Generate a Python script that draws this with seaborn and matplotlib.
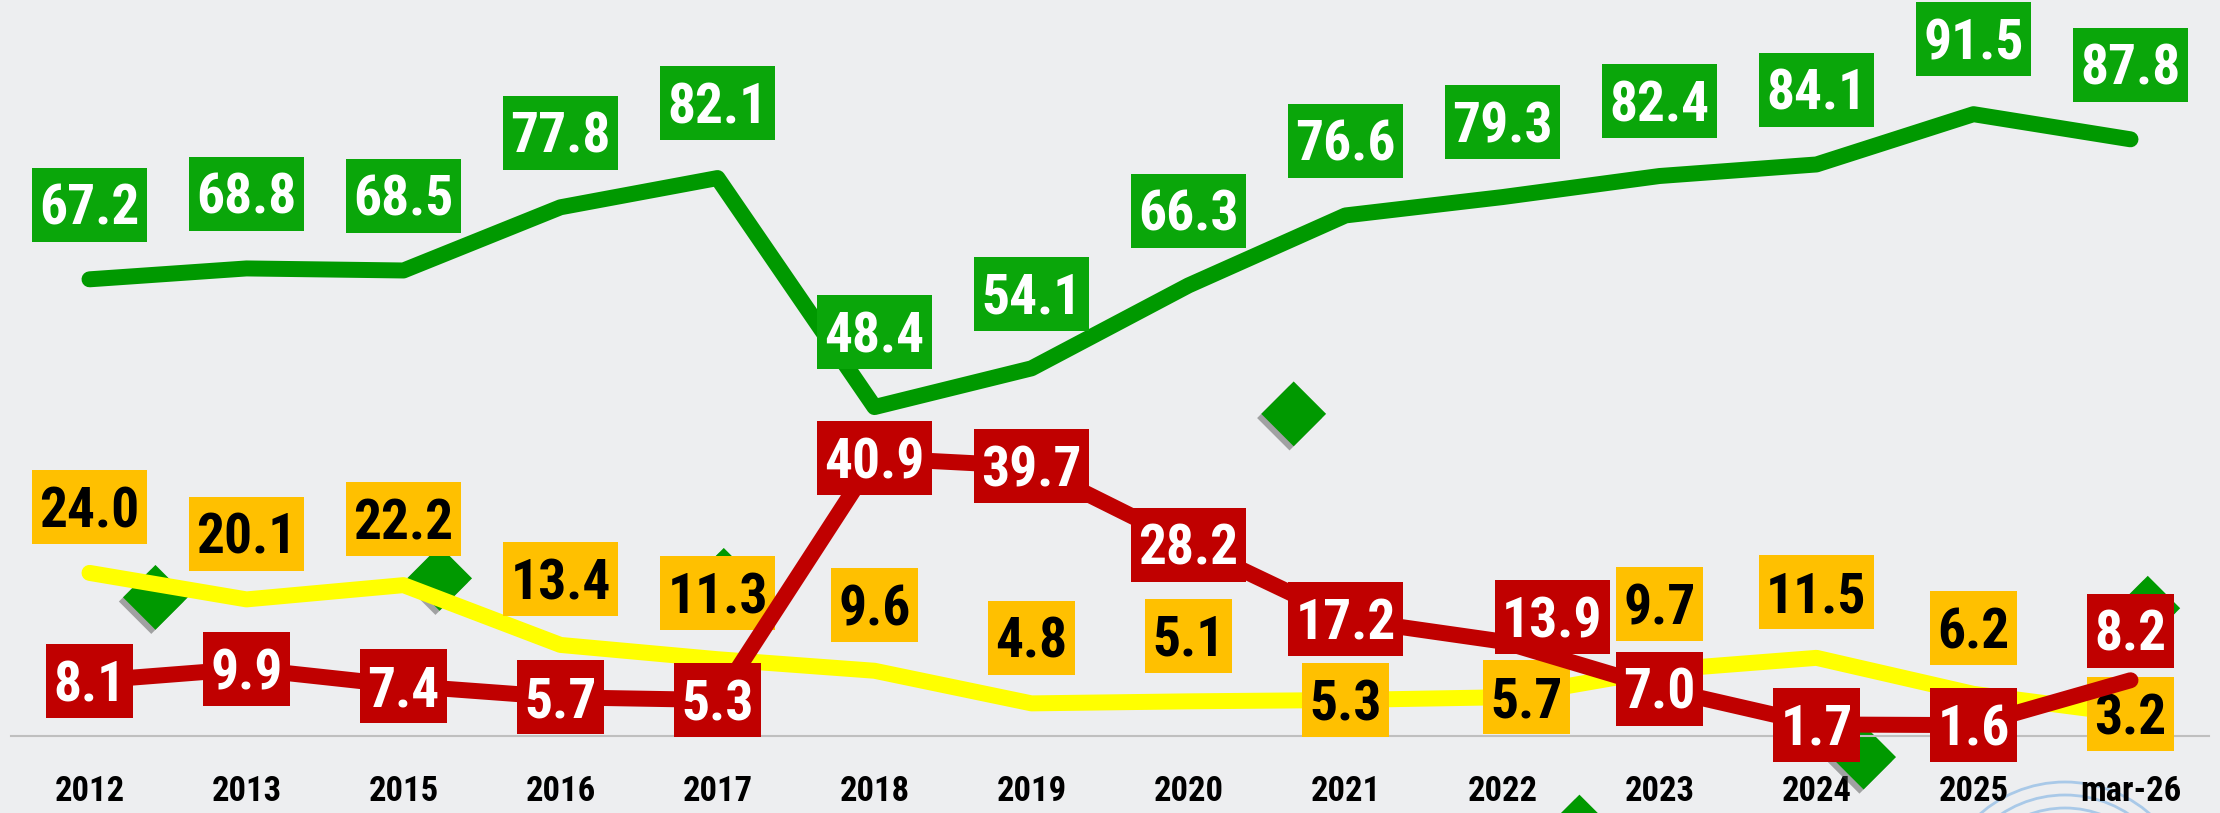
import os
import numpy as np
import pandas as pd
import matplotlib
matplotlib.use('Agg')
import matplotlib.pyplot as plt
import matplotlib.patheffects as pe
from matplotlib import font_manager
from matplotlib.patches import Circle
from matplotlib.path import Path
from matplotlib.textpath import TextPath
from matplotlib.transforms import IdentityTransform
import seaborn as sns

periods = ['2012', '2013', '2015', '2016', '2017', '2018', '2019', '2020',
           '2021', '2022', '2023', '2024', '2025', 'mar-26']
green_vals = [67.2, 68.8, 68.5, 77.8, 82.1, 48.4, 54.1, 66.3, 76.6, 79.3, 82.4, 84.1, 91.5, 87.8]
yellow_vals = [24.0, 20.1, 22.2, 13.4, 11.3, 9.6, 4.8, 5.1, 5.3, 5.7, 9.7, 11.5, 6.2, 3.2]
red_vals = [8.1, 9.9, 7.4, 5.7, 5.3, 40.9, 39.7, 28.2, 17.2, 13.9, 7.0, 1.7, 1.6, 8.2]

# stray green diamonds seen in the original (category position, value)
diamond_pos = [0.42, 2.23, 4.04, 7.67, 9.49, 11.30, 13.11]
diamond_vals = [20.4, 23.2, 22.9, 47.4, -13.4, -3.1, 18.8]

# label box offsets in pixels (most boxes sit at a fixed distance from the point)
n = len(periods)
green_dx, green_dy = [0] * n, [75] * n
yellow_dx = [0] * n
yellow_dx[9] = 24
yellow_dy = [66] * n
yellow_dy[8] = yellow_dy[9] = yellow_dy[13] = 0
red_dx, red_dy = [0] * n, [0] * n
red_dx[9], red_dy[9] = 50, 25
red_dy[13] = 50

BG = '#EDEEF0'
GREEN_LINE, GREEN_BOX = '#009900', '#0AA60A'
YELLOW_LINE, YELLOW_BOX = '#FFFF00', '#FFC000'
RED = '#C00000'

sns.set_theme(style='white')
plt.rcParams['figure.facecolor'] = BG
plt.rcParams['axes.facecolor'] = BG
plt.rcParams['font.family'] = ['DejaVu Sans']

# pick the bold narrow sans face whose proportions come closest to the original type
families = ('liberationsans', 'roboto', 'notosans-', 'opensans', 'dejavusans', 'lato', 'inter')
skip = ('semibold', 'extrabold', 'demibold', 'italic', 'oblique', 'black', 'light', 'mono')
cands = []
for f in font_manager.fontManager.ttflist:
    b = os.path.basename(f.fname).lower()
    if (b.startswith(families) and ('condensed' in b or 'narrow' in b) and 'bold' in b
            and not any(s in b for s in skip)):
        cands.append(f.fname)
cands.append(font_manager.findfont(font_manager.FontProperties(family='DejaVu Sans', weight='bold')))


def proportions(fname):
    p = font_manager.FontProperties(fname=fname)
    h = TextPath((0, 0), '0123456789', size=1, prop=p).get_extents().y1
    w = TextPath((0, 0), '67.2', size=1, prop=p).get_extents().width
    return w / h, h


font_file = min(cands, key=lambda fn: abs(proportions(fn)[0] - 2.1))
bold = font_manager.FontProperties(fname=font_file)
digit_h = proportions(font_file)[1]
desc = -TextPath((0, 0), 'lp', size=1, prop=bold).get_extents().y0
label_size = 40 / digit_h * 0.72   # digits about 40 px tall
tick_size = 25 / digit_h * 0.72    # tick digits about 25 px tall


def label_box(x0, y0, width, height, mutation_size):
    # fixed-height box centred on the digits, slim side padding
    hd = digit_h * mutation_size
    cy = y0 + desc * mutation_size + hd / 2
    hh, px = 0.925 * hd, 0.19 * hd
    verts = [(x0 - px, cy - hh), (x0 + width + px, cy - hh), (x0 + width + px, cy + hh),
             (x0 - px, cy + hh), (x0 - px, cy - hh)]
    return Path(verts, closed=True)


df = pd.DataFrame({'pos': np.arange(n), 'period': periods,
                   'green': green_vals, 'yellow': yellow_vals, 'red': red_vals})

fig, ax = plt.subplots(figsize=(22.2, 8.13), dpi=100)
fig.subplots_adjust(left=11 / 2220, right=2209 / 2220, bottom=77 / 813, top=1.0)

shadow = [pe.SimplePatchShadow(offset=(-3, -3), shadow_rgbFace='#444444', alpha=0.45), pe.Normal()]
sns.scatterplot(x=diamond_pos, y=diamond_vals, marker='D', s=1090, color=GREEN_LINE,
                linewidth=0, ax=ax, zorder=2, clip_on=False, path_effects=shadow)

line_kw = dict(linewidth=11.5, solid_capstyle='round', solid_joinstyle='round')
sns.lineplot(data=df, x='pos', y='green', color=GREEN_LINE, ax=ax, zorder=3, **line_kw)
sns.lineplot(data=df, x='pos', y='yellow', color=YELLOW_LINE, ax=ax, zorder=5, **line_kw)
sns.lineplot(data=df, x='pos', y='red', color=RED, ax=ax, zorder=7, **line_kw)


def add_labels(vals, face, text_color, dxs, dys, z):
    for i, v in enumerate(vals):
        ax.annotate(f'{v:.1f}', xy=(i, v), xytext=(dxs[i], dys[i]), textcoords='offset pixels',
                    ha='center', va='center_baseline', fontproperties=bold, fontsize=label_size,
                    color=text_color, zorder=z, annotation_clip=False,
                    bbox=dict(boxstyle=label_box, fc=face, ec='none'))


add_labels(green_vals, GREEN_BOX, 'white', green_dx, green_dy, 4)
add_labels(yellow_vals, YELLOW_BOX, 'black', yellow_dx, yellow_dy, 6)
add_labels(red_vals, RED, 'white', red_dx, red_dy, 8)

ax.set_xlim(-0.5, n - 0.5)
ax.set_ylim(0, 108.3)
ax.set_xticks(np.arange(n))
ax.set_xticklabels(periods)
for t in ax.get_xticklabels():
    t.set_fontproperties(bold)
    t.set_fontsize(tick_size)
ax.set_xticks(np.arange(-0.5, n, 1), minor=True)
ax.set_yticks([])
ax.set_xlabel('')
ax.set_ylabel('')
ax.tick_params(axis='x', which='major', length=0, pad=28, labelcolor='black')
ax.tick_params(axis='x', which='minor', length=8, width=1.2, color='#B8B8B8', direction='out')
for side in ['top', 'right', 'left']:
    ax.spines[side].set_visible(False)
ax.spines['bottom'].set_color('#BFBFBF')
ax.spines['bottom'].set_linewidth(1.5)

# faint logo rings at the bottom right of the original
for r in [129, 116, 103]:
    fig.add_artist(Circle((2065, 813 - 911), r, transform=IdentityTransform(), fill=False,
                          ec='#A9C9E8', lw=2, zorder=0))

fig.savefig('out.png', dpi=100, facecolor=BG)
